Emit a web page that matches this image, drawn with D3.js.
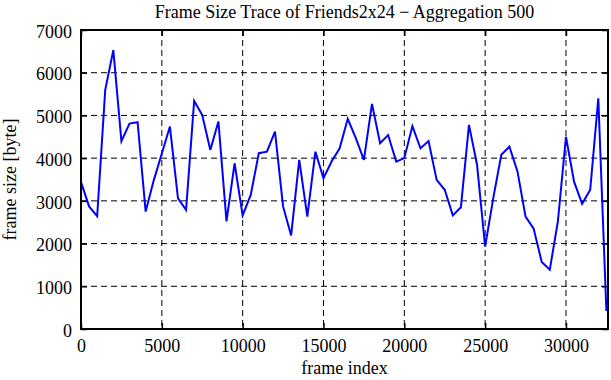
<!DOCTYPE html>
<html>
<head>
<meta charset="utf-8">
<script src="https://cdn.jsdelivr.net/npm/d3@7"></script>
<style>
  body { margin: 0; background: #fff; }
  text { font-family: "Liberation Serif", "Times New Roman", serif; }
</style>
</head>
<body>
<div id="chart"></div>
<script>
// frame index (x) and aggregated frame size (y)
var frameIndex = [
  0, 500, 1000, 1500, 2000, 2500, 3000, 3500, 4000, 4500,
  5000, 5500, 6000, 6500, 7000, 7500, 8000, 8500, 9000, 9500,
  10000, 10500, 11000, 11500, 12000, 12500, 13000, 13500, 14000, 14500,
  15000, 15500, 16000, 16500, 17000, 17500, 18000, 18500, 19000, 19500,
  20000, 20500, 21000, 21500, 22000, 22500, 23000, 23500, 24000, 24500,
  25000, 25500, 26000, 26500, 27000, 27500, 28000, 28500, 29000, 29500,
  30000, 30500, 31000, 31500, 32000, 32500
]
var frameSize = [
  3440, 2870, 2640, 5600, 6530, 4400, 4810, 4840, 2750, 3480,
  4110, 4740, 3060, 2790, 5340, 5010, 4190, 4860, 2520, 3880,
  2660, 3140, 4115, 4150, 4620, 2870, 2190, 3960, 2630, 4150,
  3530, 3920, 4230, 4920, 4470, 3960, 5270, 4350, 4540, 3920,
  4000, 4750, 4230, 4400, 3490, 3260, 2660, 2850, 4780, 3840,
  1930, 3060, 4080, 4270, 3690, 2630, 2350, 1570, 1390, 2520,
  4500, 3450, 2930, 3260, 5400, 420
]
var xTicks = [0, 5000, 10000, 15000, 20000, 25000, 30000]
var yTicks = [0, 1000, 2000, 3000, 4000, 5000, 6000, 7000]
var xMax = 32600

var titleText = "Frame Size Trace of Friends2x24 \u2212 Aggregation 500"
var xLabel = "frame index"
var yLabel = "frame size [byte]"

var data = frameIndex.map(function(d, i) { return {x: d, y: frameSize[i]} })

var margin = {top: 30, right: 3, bottom: 51, left: 81},
    width = 611 - margin.left - margin.right,
    height = 380 - margin.top - margin.bottom

var svg = d3.select("#chart")
  .append("svg")
    .attr("width", 611)
    .attr("height", 380)
  .append("g")
    .attr("transform", "translate(" + margin.left + "," + margin.top + ")")

var x = d3.scaleLinear().domain([0, xMax]).range([0, width])
var y = d3.scaleLinear().domain([0, 7000]).range([height, 0])
var fmt = d3.format("d")

// dashed grid
svg.append("g")
  .selectAll("line")
  .data(xTicks.filter(function(d) { return d > 0 }))
  .enter().append("line")
    .attr("x1", function(d) { return x(d) }).attr("x2", function(d) { return x(d) })
    .attr("y1", 0).attr("y2", height)
    .attr("stroke", "#000").attr("stroke-width", 1)
    .attr("stroke-dasharray", "6,4")
svg.append("g")
  .selectAll("line")
  .data(yTicks.filter(function(d) { return d > 0 && d < 7000 }))
  .enter().append("line")
    .attr("x1", 0).attr("x2", width)
    .attr("y1", function(d) { return y(d) }).attr("y2", function(d) { return y(d) })
    .attr("stroke", "#000").attr("stroke-width", 1)
    .attr("stroke-dasharray", "6,4")

// axes, ticks pointing inward (mirrored)
var xAxis = svg.append("g")
  .attr("transform", "translate(0," + height + ")")
  .call(d3.axisBottom(x).tickValues(xTicks).tickFormat(fmt).tickSizeInner(-6).tickSizeOuter(0))
var xAxisTop = svg.append("g")
  .call(d3.axisTop(x).tickValues(xTicks).tickSizeInner(-6).tickSizeOuter(0).tickFormat(""))
var yAxis = svg.append("g")
  .call(d3.axisLeft(y).tickValues(yTicks).tickFormat(fmt).tickSizeInner(-6).tickSizeOuter(0).tickPadding(9))
var yAxisRight = svg.append("g")
  .attr("transform", "translate(" + width + ",0)")
  .call(d3.axisRight(y).tickValues(yTicks).tickSizeInner(-6).tickSizeOuter(0).tickFormat(""))

;[xAxis, xAxisTop, yAxis, yAxisRight].forEach(function(a) {
  a.select(".domain").remove()
  a.selectAll("line").attr("stroke", "#000").attr("stroke-width", 1.5)
  a.selectAll("text")
    .attr("font-family", "Liberation Serif")
    .attr("font-size", 18)
    .attr("fill", "#000")
})
xAxis.selectAll("text").attr("dy", "0.71em").attr("y", 10)
yAxis.selectAll("text").attr("dy", "0.4em")

// the trace
svg.append("path")
  .datum(data)
  .attr("fill", "none")
  .attr("stroke", "#0000ff")
  .attr("stroke-width", 2)
  .attr("stroke-linejoin", "miter")
  .attr("d", d3.line()
    .x(function(d) { return x(d.x) })
    .y(function(d) { return y(d.y) }))

// border
svg.append("rect")
  .attr("x", 0).attr("y", 0)
  .attr("width", width).attr("height", height)
  .attr("fill", "none")
  .attr("stroke", "#000")
  .attr("stroke-width", 2)

// title and axis labels
svg.append("text")
  .attr("x", width / 2).attr("y", -12)
  .attr("text-anchor", "middle")
  .attr("font-size", 18)
  .text(titleText)
svg.append("text")
  .attr("x", width / 2).attr("y", height + 45)
  .attr("text-anchor", "middle")
  .attr("font-size", 18)
  .text(xLabel)
svg.append("text")
  .attr("transform", "translate(" + (16 - margin.left) + "," + (height / 2) + ") rotate(-90)")
  .attr("text-anchor", "middle")
  .attr("font-size", 18)
  .text(yLabel)
</script>
</body>
</html>
